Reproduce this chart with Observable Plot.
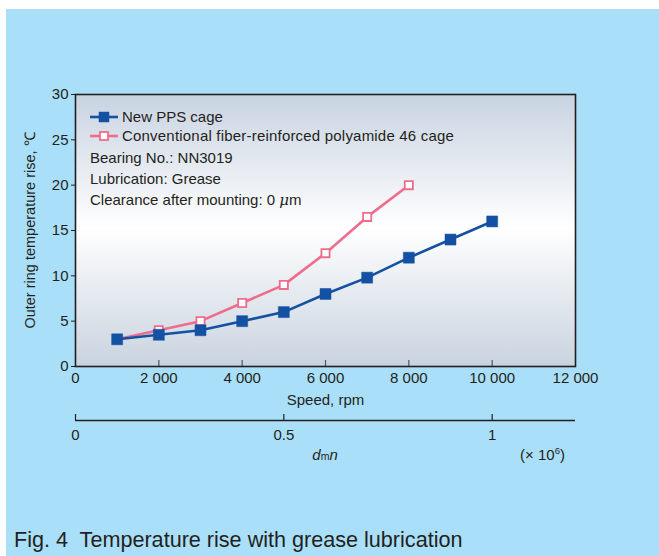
<!DOCTYPE html>
<html>
<head>
<meta charset="utf-8">
<script src="https://cdn.jsdelivr.net/npm/d3@7"></script>
<script src="https://cdn.jsdelivr.net/npm/@observablehq/plot@0.6"></script>
<style>
  html, body { margin: 0; padding: 0; background: #ffffff; }
  #panel {
    position: absolute; left: 6px; top: 9px; width: 653px; height: 547px;
    background: #aadff9; font-family: "Liberation Sans", Arial, sans-serif; color: #231f20;
  }
  #chart { position: absolute; left: 0; top: 0; }
  #caption {
    position: absolute; left: 8px; top: 518px; font-size: 21.6px; line-height: 25px;
    color: #231f20; white-space: nowrap;
  }
</style>
</head>
<body>
<svg width="0" height="0" style="position:absolute">
  <defs>
    <linearGradient id="bg" x1="0" y1="0" x2="0" y2="1">
      <stop offset="0" stop-color="#c8d3e1"/>
      <stop offset="0.49" stop-color="#ffffff"/>
      <stop offset="1" stop-color="#c9d3df"/>
    </linearGradient>
  </defs>
</svg>
<div id="panel">
  <div id="chart"></div>
  <div id="caption">Fig. 4&nbsp; Temperature rise with grease lubrication</div>
</div>
<script>
// ---- data ----
const ppsSpeed = [1000, 2000, 3000, 4000, 5000, 6000, 7000, 8000, 9000, 10000];
const ppsRise  = [3, 3.5, 4, 5, 6, 8, 9.8, 12, 14, 16];
const paSpeed  = [1000, 2000, 3000, 4000, 5000, 6000, 7000, 8000];
const paRise   = [3, 4, 5, 7, 9, 12.5, 16.5, 20];
const xTicks   = [0, 2000, 4000, 6000, 8000, 10000, 12000];
const yTicks   = [0, 5, 10, 15, 20, 25, 30];
const dmnTicks = [0, 0.5, 1];          // ×10^6
const dmnToRpm = 10000;                 // 1×10^6 dmn ↔ 10 000 rpm
const seriesNames = ["New PPS cage", "Conventional fiber-reinforced polyamide 46 cage"];
const notes = ["Bearing No.: NN3019", "Lubrication: Grease"];
const clearanceNote = ["Clearance after mounting: 0 ", "\u03bc", "m"];

const pps = ppsSpeed.map((s, i) => ({speed: s, rise: ppsRise[i]}));
const pa  = paSpeed.map((s, i) => ({speed: s, rise: paRise[i]}));
const dmn = dmnTicks.map(d => ({pos: d * dmnToRpm, label: String(d)}));

const BLUE = "#1551a2", PINK = "#ee6d8c", INK = "#231f20";
const FONT = "'Liberation Sans', Arial, sans-serif";
const W = 653, H = 470;
const mTop = 85, mBottom = 113, mLeft = 69, mRight = 84;
const AX2 = 54; // offset of second axis below frame, px

const chart = Plot.plot({
  width: W, height: H,
  marginTop: mTop, marginBottom: mBottom, marginLeft: mLeft, marginRight: mRight,
  style: {fontFamily: FONT, fontSize: "15px", color: INK, background: "transparent"},
  x: {domain: [0, 12000]},
  y: {domain: [0, 30]},
  marks: [
    Plot.frame({fill: "url(#bg)", stroke: "none"}),
    // inner x ticks
    Plot.ruleX(xTicks.slice(1, -1), {y1: 0, y2: 0, insetTop: -6, stroke: "#555", strokeWidth: 1.2}),
    Plot.frame({stroke: INK, strokeWidth: 1.6}),
    // axes
    Plot.axisY({ticks: yTicks, tickSize: 4, tickPadding: 3, fontSize: 15, label: null, stroke: INK}),
    Plot.axisX({ticks: xTicks, tickSize: 0, tickPadding: 6, fontSize: 15, label: null,
      tickFormat: d => d3.format(",")(d).replace(/,/g, " ")}),
    Plot.text(["Outer ring temperature rise, \u2103"], {frameAnchor: "left", textAnchor: "middle", rotate: -90, dx: -45, fontSize: 14.5, fill: INK}),
    Plot.text(["Speed, rpm"], {frameAnchor: "bottom", dy: 38, fontSize: 15, fill: INK}),
    // second axis (dmn)
    Plot.ruleY([0], {dy: AX2, stroke: INK, strokeWidth: 1.4}),
    Plot.ruleX(dmn, {x: "pos", y1: 0, y2: 0, insetTop: -6, dy: AX2, stroke: INK, strokeWidth: 1.2}),
    Plot.text(dmn, {x: "pos", y: 0, text: "label", dy: AX2 + 15, fontSize: 15, fill: INK}),
    // data
    Plot.line(pa, {x: "speed", y: "rise", stroke: PINK, strokeWidth: 2.6}),
    Plot.line(pps, {x: "speed", y: "rise", stroke: BLUE, strokeWidth: 2.6}),
    Plot.dot(pa, {x: "speed", y: "rise", symbol: "square", r: 4.6, fill: "white", stroke: PINK, strokeWidth: 1.8}),
    Plot.dot(pps, {x: "speed", y: "rise", symbol: "square", r: 6.2, fill: BLUE, stroke: BLUE, strokeWidth: 0.5})
  ]
});
document.getElementById("chart").appendChild(chart);

// legend, notes and dmn label drawn as an overlay
const svg = d3.select(chart);
const fx = mLeft, fy = mTop;
const leg = svg.append("g").attr("font-family", FONT).attr("font-size", 15)
  .attr("fill", INK).attr("text-anchor", "start");
const legendStyles = [
  {color: BLUE, fill: BLUE, size: 10},
  {color: PINK, fill: "white", size: 8}
];
seriesNames.forEach((name, i) => {
  const y = fy + 23 + i * 19;
  const st = legendStyles[i];
  leg.append("line").attr("x1", fx + 15).attr("x2", fx + 43).attr("y1", y).attr("y2", y)
    .attr("stroke", st.color).attr("stroke-width", 2.6);
  leg.append("rect").attr("x", fx + 29 - st.size / 2).attr("y", y - st.size / 2)
    .attr("width", st.size).attr("height", st.size).attr("fill", st.fill)
    .attr("stroke", st.color).attr("stroke-width", i ? 1.8 : 0.5);
  leg.append("text").attr("x", fx + 47).attr("y", y).attr("dy", "0.35em")
    .attr("letter-spacing", i ? 0.2 : 0).text(name);
});
notes.forEach((t, i) => {
  leg.append("text").attr("x", fx + 15).attr("y", fy + 64 + i * 21).attr("dy", "0.35em").text(t);
});
const cl = leg.append("text").attr("x", fx + 15).attr("y", fy + 64 + 2 * 21).attr("dy", "0.35em");
cl.append("tspan").text(clearanceNote[0]);
cl.append("tspan").attr("font-style", "italic").attr("font-family", "'DejaVu Serif', serif").attr("font-size", 15).text(clearanceNote[1]);
cl.append("tspan").text(clearanceNote[2]);

const cx = mLeft + (W - mLeft - mRight) / 2;
const yBottom = H - mBottom;
const dm = leg.append("text").attr("x", cx).attr("y", yBottom + AX2 + 40).attr("text-anchor", "middle");
dm.append("tspan").attr("font-style", "italic").text("d");
dm.append("tspan").attr("font-size", 10.5).text("m");
dm.append("tspan").attr("font-style", "italic").text("n");
const ex = leg.append("text").attr("x", W - mRight - 10).attr("y", yBottom + AX2 + 40).attr("text-anchor", "end");
ex.append("tspan").text("(\u00d7 10");
ex.append("tspan").attr("font-size", 9.5).attr("dy", -6).text("6");
ex.append("tspan").attr("dy", 6).text(")");
</script>
</body>
</html>
